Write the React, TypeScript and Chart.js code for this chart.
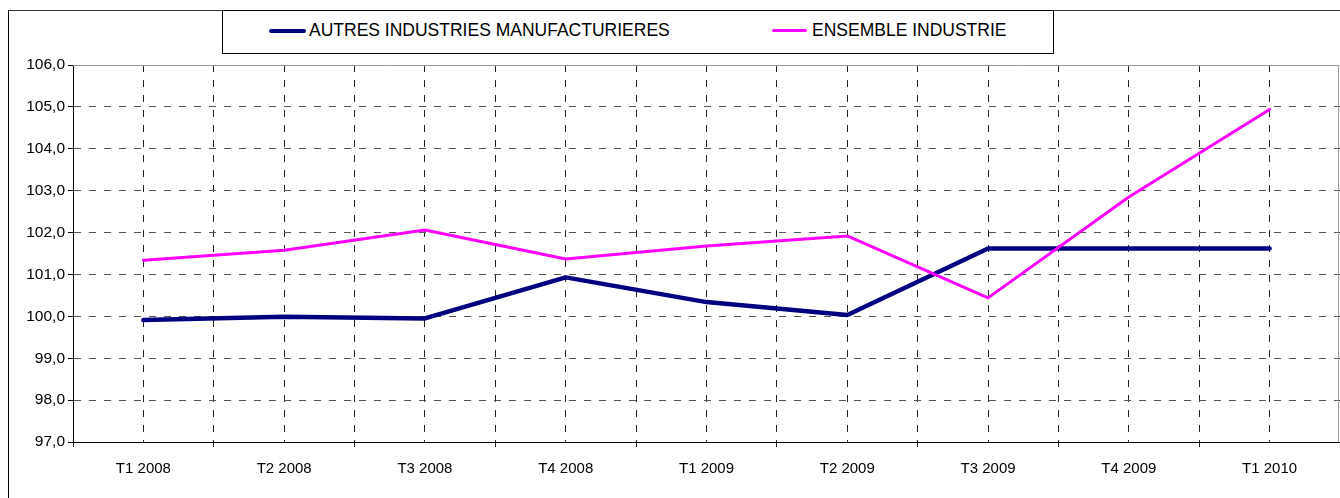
import React, { useEffect, useRef } from 'react';
import { Chart, registerables } from 'chart.js';

Chart.register(...registerables);

const categories = ['T1 2008', 'T2 2008', 'T3 2008', 'T4 2008', 'T1 2009', 'T2 2009', 'T3 2009', 'T4 2009', 'T1 2010'];
const autresValues = [99.91, 99.99, 99.95, 100.93, 100.34, 100.03, 101.62, 101.62, 101.62];
const ensembleValues = [101.34, 101.58, 102.06, 101.37, 101.68, 101.92, 100.44, 102.85, 104.94];
const yMin = 97;
const yMax = 106;
const seriesNames = ['AUTRES INDUSTRIES MANUFACTURIERES', 'ENSEMBLE INDUSTRIE'];

const FONT = '"Liberation Sans", Arial, sans-serif';

const framePlugin = {
  id: 'plotFrame',
  beforeDatasetsDraw(chart: any) {
    const { ctx, chartArea } = chart;
    ctx.save();
    ctx.strokeStyle = '#999';
    ctx.lineWidth = 1;
    ctx.beginPath();
    ctx.moveTo(chartArea.left, Math.round(chartArea.top) + 0.5);
    ctx.lineTo(chartArea.right - 1, Math.round(chartArea.top) + 0.5);
    ctx.moveTo(Math.round(chartArea.right) - 1.5, chartArea.top);
    ctx.lineTo(Math.round(chartArea.right) - 1.5, chartArea.bottom);
    ctx.stroke();
    ctx.restore();
  },
};

export default function App() {
  const ref = useRef<HTMLCanvasElement | null>(null);

  useEffect(() => {
    if (!ref.current) return;
    const chart = new Chart(ref.current, {
      type: 'line',
      data: {
        datasets: [
          {
            label: seriesNames[0],
            data: autresValues.map((v, i) => ({ x: i, y: v })),
            borderColor: '#000080',
            borderWidth: 4.5,
            pointRadius: 0,
            tension: 0,
            borderCapStyle: 'round',
            borderJoinStyle: 'round',
            order: 2,
          },
          {
            label: seriesNames[1],
            data: ensembleValues.map((v, i) => ({ x: i, y: v })),
            borderColor: '#FF00FF',
            borderWidth: 3,
            pointRadius: 0,
            tension: 0,
            borderCapStyle: 'round',
            borderJoinStyle: 'round',
            order: 1,
          },
        ],
      },
      options: {
        responsive: false,
        animation: false,
        devicePixelRatio: 1,
        layout: { padding: { top: 65, right: 0, left: 0, bottom: 0 } },
        plugins: { legend: { display: false }, tooltip: { enabled: false } },
        scales: {
          x: {
            type: 'linear',
            min: -0.5,
            max: categories.length - 0.5,
            afterFit: (s: any) => { s.height = 56; s.paddingLeft = 0; s.paddingRight = 0; },
            afterBuildTicks: (s: any) => {
              const t = [];
              for (let i = 0; i <= categories.length * 2; i++) t.push({ value: -0.5 + i * 0.5 });
              s.ticks = t;
            },
            ticks: {
              autoSkip: false,
              maxRotation: 0,
              minRotation: 0,
              padding: 13,
              color: '#000',
              font: { family: FONT, size: 15 },
              callback: (v: any) => (Number.isInteger(v) ? categories[v] : ''),
            },
            grid: {
              color: (c: any) => (c.tick && (c.tick.value === -0.5 || c.tick.value === categories.length - 0.5) ? 'rgba(0,0,0,0)' : '#222'),
              lineWidth: 1,
              drawTicks: true,
              tickLength: 5,
              tickBorderDash: [],
              tickColor: (c: any) => (c.tick && Number.isInteger(c.tick.value) ? 'rgba(0,0,0,0)' : '#000'),
            },
            border: { display: true, color: '#000', width: 1, dash: [7, 8] },
          },
          y: {
            type: 'linear',
            min: yMin,
            max: yMax,
            afterFit: (s: any) => { s.width = 73; },
            ticks: {
              stepSize: 1,
              padding: 3,
              color: '#000',
              font: { family: FONT, size: 15.5 },
              callback: (v: any) => Number(v).toFixed(1).replace('.', ','),
            },
            grid: {
              color: (c: any) => (c.tick && (c.tick.value === yMax || c.tick.value === yMin) ? 'rgba(0,0,0,0)' : '#555'),
              lineWidth: 1,
              drawTicks: true,
              tickLength: 5,
              tickBorderDash: [],
              tickColor: '#000',
            },
            border: { display: true, color: '#000', width: 1, dash: [7, 8] },
          },
        },
      },
      plugins: [framePlugin],
    } as any);
    return () => chart.destroy();
  }, []);

  const textStyle: React.CSSProperties = {
    position: 'absolute',
    top: 9,
    fontFamily: FONT,
    fontSize: 17.5,
    lineHeight: '20px',
    color: '#000',
    whiteSpace: 'nowrap',
  };

  return (
    <div style={{ position: 'relative', width: 1340, height: 498, overflow: 'hidden' }}>
      <style>{'body{margin:0;overflow:hidden;}'}</style>
      <div style={{ position: 'absolute', left: 8, top: 10, width: 1332, height: 500, boxSizing: 'border-box', border: '1px solid #000', borderTopColor: '#333', borderRight: 'none' }} />
      <canvas ref={ref} width={1340} height={498} style={{ position: 'absolute', left: 0, top: 0, width: 1340, height: 498 }} />
      <div style={{ position: 'absolute', left: 222, top: 10, width: 832, height: 44, boxSizing: 'border-box', border: '1px solid #000', background: '#fff' }}>
        <div style={{ position: 'absolute', left: 46, top: 18, width: 37, height: 4, borderRadius: 2, background: '#000080' }} />
        <span style={{ ...textStyle, left: 86 }}>{seriesNames[0]}</span>
        <div style={{ position: 'absolute', left: 549, top: 18, width: 35, height: 3, borderRadius: 1.5, background: '#FF00FF' }} />
        <span style={{ ...textStyle, left: 589 }}>{seriesNames[1]}</span>
      </div>
    </div>
  );
}
